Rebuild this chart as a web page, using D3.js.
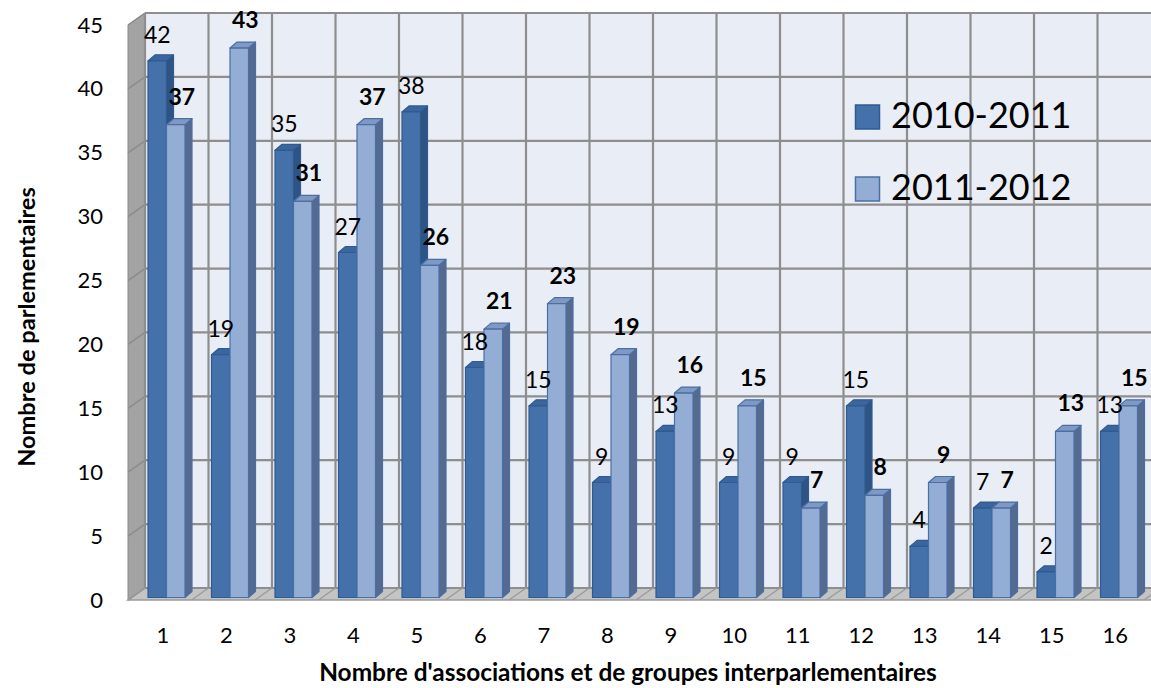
<!DOCTYPE html>
<html><head><meta charset="utf-8">
<script src="https://cdn.jsdelivr.net/npm/d3@7"></script>
<style>body{margin:0;background:#fff} svg{display:block}</style>
</head><body>
<svg id="c" width="1151" height="688"></svg>
<script>
const categories = ["1","2","3","4","5","6","7","8","9","10","11","12","13","14","15","16"];
const series2010 = [42,19,35,27,38,18,15,9,13,9,9,15,4,7,2,13];
const series2011 = [37,43,31,37,26,21,23,19,16,15,7,8,9,7,13,15];
const seriesNames = ["2010-2011","2011-2012"];
const yTicks = [0,5,10,15,20,25,30,35,40,45];
const xTitle = "Nombre d'associations et de groupes interparlementaires";
const yTitle = "Nombre de parlementaires";

const FONT = "Lato, 'Open Sans', sans-serif";
const svg = d3.select("#c");
svg.append("rect").attr("width",1151).attr("height",688).attr("fill","#fff");

const x = d3.scaleBand().domain(categories).range([128, 128 + 16*63.5]);
const y = d3.scaleLinear().domain([0,45]).range([600,25]);
const DX = 17, DY = -12;        // wall depth
const BY = -2.5;                // bar plane offset
const BDX = 7, BDY = -6;        // bar depth
const bw = 18.5;

const gridC = "#8e8e8e";
const backTop = y(45)+DY, backBot = y(0)+DY, backL = x.range()[0]+DX;
svg.append("rect").attr("x",backL).attr("y",backTop).attr("width",1170-backL).attr("height",backBot-backTop).attr("fill","#E9EDF6");
const line = d3.line();
svg.append("path").attr("d", line([[x.range()[0],y(45)],[backL,backTop],[backL,backBot],[x.range()[0],y(0)]])+"Z")
  .attr("fill","#A3A3A3").attr("stroke","#8a8a8a").attr("stroke-width",1);
svg.append("path").attr("d", line([[x.range()[0],y(0)],[backL,backBot],[1170,backBot],[1170,y(0)]])+"Z")
  .attr("fill","#C4C4C4").attr("stroke","#9a9a9a").attr("stroke-width",1.5);
yTicks.forEach(t=>{
  svg.append("line").attr("x1",backL).attr("x2",1170).attr("y1",y(t)+DY).attr("y2",y(t)+DY)
    .attr("stroke",gridC).attr("stroke-width",2.2);
  svg.append("line").attr("x1",x.range()[0]).attr("x2",backL).attr("y1",y(t)).attr("y2",y(t)+DY)
    .attr("stroke","#8c8c8c").attr("stroke-width",1.5);
});
d3.range(0,17).forEach(k=>{
  const xb = backL + k*x.step();
  svg.append("line").attr("x1",xb).attr("x2",xb).attr("y1",backTop).attr("y2",backBot)
    .attr("stroke",gridC).attr("stroke-width",2.2);
  svg.append("line").attr("x1",xb).attr("x2",xb-DX).attr("y1",backBot).attr("y2",y(0))
    .attr("stroke","#9a9a9a").attr("stroke-width",1.3);
});

const styles = [
  {front:"#4471AA", top:"#3A659E", side:"#2D5485", stroke:"#2F5B8F", off:20},
  {front:"#94ADD5", top:"#7F98C4", side:"#56698F", stroke:"#4A6FA5", off:20+bw}
];
const barG = svg.append("g");
function bar(xl, v, s){
  const xr = xl+bw, yt = y(v)+BY, yb = y(0)+BY;
  const g = barG.append("g").attr("stroke",s.stroke).attr("stroke-width",1.2).attr("stroke-linejoin","round");
  g.append("path").attr("d", line([[xr,yt],[xr+BDX,yt+BDY],[xr+BDX,yb+BDY],[xr,yb]])+"Z").attr("fill",s.side);
  g.append("path").attr("d", line([[xl,yt],[xl+BDX,yt+BDY],[xr+BDX,yt+BDY],[xr,yt]])+"Z").attr("fill",s.top);
  g.append("rect").attr("x",xl).attr("y",yt).attr("width",bw).attr("height",yb-yt).attr("fill",s.front);
}
categories.forEach((c,i)=>{
  bar(x(c)+styles[0].off, series2010[i], styles[0]);
  bar(x(c)+styles[1].off, series2011[i], styles[1]);
});
const lab = svg.append("g").attr("font-family",FONT).attr("font-size",23).attr("fill","#000").attr("text-anchor","middle");
categories.forEach((c,i)=>{
  lab.append("text").attr("x", x(c)+styles[0].off+bw/2).attr("y", y(series2010[i])+BY-18).text(series2010[i]);
  lab.append("text").attr("x", x(c)+styles[1].off+bw/2+6).attr("y", y(series2011[i])+BY-20)
    .attr("font-weight","bold").text(series2011[i]);
});

const ya = svg.append("g").attr("transform","translate(103,0)")
  .call(d3.axisLeft(y).tickValues(yTicks).tickSize(0).tickPadding(0));
ya.select(".domain").remove();
ya.selectAll("text").attr("font-family",FONT).attr("font-size",22).attr("fill","#000");
const xa = svg.append("g").attr("transform","translate(3,627)")
  .call(d3.axisBottom(x).tickSize(0).tickPadding(0));
xa.select(".domain").remove();
xa.selectAll("text").attr("font-family",FONT).attr("font-size",22).attr("fill","#000");

function fitText(sel, target){
  const w = sel.node().getComputedTextLength();
  const fs = parseFloat(sel.attr("font-size"));
  sel.attr("font-size", fs*target/w);
}
const xt = svg.append("text").attr("x",628).attr("y",681).attr("text-anchor","middle")
  .attr("font-family",FONT).attr("font-weight","bold").attr("font-size",20).text(xTitle);
fitText(xt, 618);
const yt = svg.append("text").attr("transform","translate(35,327) rotate(-90)").attr("text-anchor","middle")
  .attr("font-family",FONT).attr("font-weight","bold").attr("font-size",20).text(yTitle);
fitText(yt, 280);

const leg = svg.append("g");
seriesNames.forEach((n,i)=>{
  leg.append("rect").attr("x",855.5).attr("y",105+i*72).attr("width",24).attr("height",24)
    .attr("fill",styles[i].front).attr("stroke",styles[i].stroke).attr("stroke-width",1.5);
  leg.append("text").attr("x",891).attr("y",128+i*72).attr("font-family",FONT).attr("font-size",36)
    .attr("fill","#000").text(n);
});
</script>
</body></html>
